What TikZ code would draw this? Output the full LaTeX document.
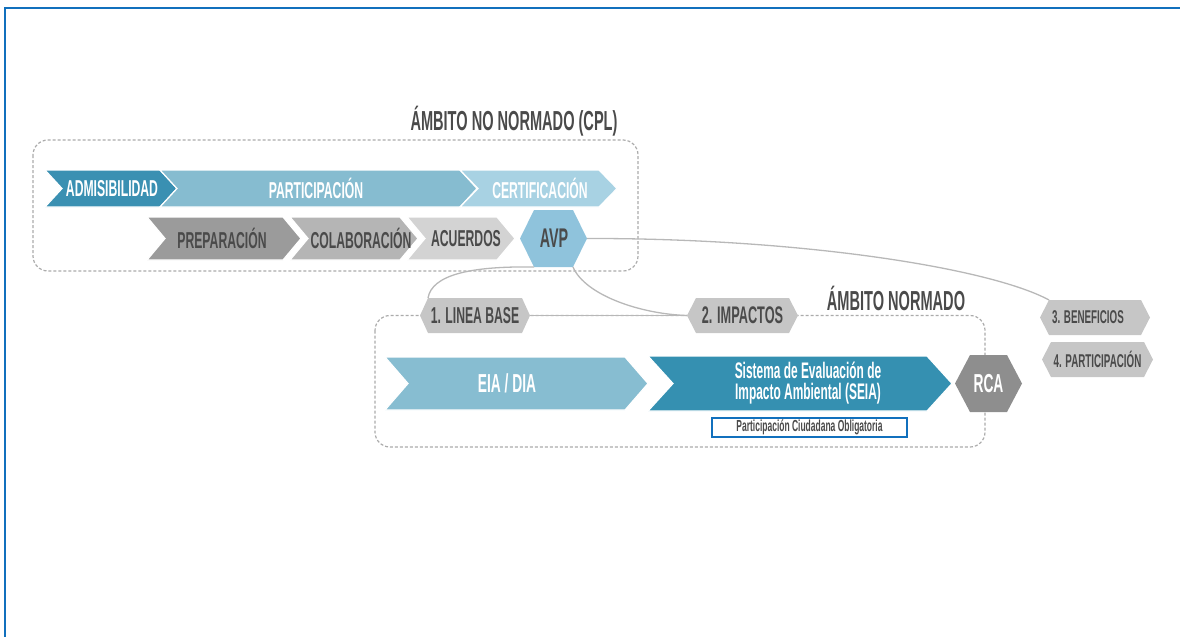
\documentclass[tikz,border=0pt]{standalone}
\usepackage{fontspec}
\newfontfamily\cf[FakeStretch=0.53]{Liberation Sans Bold}
\definecolor{frame}{HTML}{1170BD}
\definecolor{dk}{HTML}{3A90B2}
\definecolor{md}{HTML}{86BCD0}
\definecolor{lt}{HTML}{A8D2E3}
\definecolor{avpc}{HTML}{8FC3DC}
\definecolor{g1}{HTML}{9B9B9B}
\definecolor{g2}{HTML}{B5B5B5}
\definecolor{g3}{HTML}{D3D3D3}
\definecolor{hexg}{HTML}{C6C6C6}
\definecolor{rcac}{HTML}{8E8E8E}
\definecolor{txt}{HTML}{4A4A4A}
\definecolor{seia}{HTML}{3590B1}
\definecolor{eia}{HTML}{87BDD1}
\definecolor{linec}{HTML}{B8B8B8}
\definecolor{dashc}{HTML}{ABABAB}
\newcommand\chev[6]{% x1, x2, ymid, hh, d, fill
  \filldraw[fill=#6,draw=white,line width=1.2pt] (#1,#3-#4) -- (#2,#3-#4) -- (#2+#5,#3) -- (#2,#3+#4) -- (#1,#3+#4) -- (#1+#5,#3) -- cycle;}
\newcommand\hexa[7]{% name, cx, cy, hw, hh, inset, fill
  \begin{scope}[shift={(#2,#3)}]
  \fill[#7] (-#4,0) -- (-#4+#6,-#5) -- (#4-#6,-#5) -- (#4,0) -- (#4-#6,#5) -- (-#4+#6,#5) -- cycle;
  \coordinate (#1-l) at (-#4,0);
  \coordinate (#1-r) at (#4,0);
  \coordinate (#1-tl) at (-#4+#6,-#5);
  \coordinate (#1-bl) at (-#4+#6,#5);
  \coordinate (#1-br) at (#4-#6,#5);
  \end{scope}}
\tikzset{
  wl/.style={text=white,font=\cf\fontsize{23}{23}\selectfont,inner sep=0pt},
  gl/.style={text=txt,font=\cf\fontsize{23}{23}\selectfont,inner sep=0pt},
  title/.style={text=txt,font=\cf\fontsize{27.5}{27.5}\selectfont,inner sep=0pt},
  dbox/.style={draw=dashc,line width=1.2pt,dash pattern=on 3pt off 2pt,rounded corners=15pt},
  conn/.style={draw=linec,line width=1.3pt},
}
\begin{document}
\begin{tikzpicture}[x=1pt,y=-1pt]
\useasboundingbox (0,0) rectangle (1180,637);
% frame
\draw[frame,line width=2.3pt] (5,8) -- (1180,8);
\draw[frame,line width=2pt] (5,7) -- (5,637);
% top dashed box
\draw[dbox] (33,140) rectangle (638,271);
\node[title] (t1) at (514,121) {ÁMBITO NO NORMADO (CPL)};
% row 1
\chev{45}{160}{188.5}{18.5}{17}{dk}
\chev{160}{460}{188.5}{18.5}{17}{md}
\chev{460}{599}{188.5}{18.5}{18}{lt}
\node[wl] (adm) at (112,188.5) {ADMISIBILIDAD};
\node[wl] (par) at (316,188.5) {PARTICIPACIÓN};
\node[wl] (cer) at (540,188.5) {CERTIFICACIÓN};
% row 2
\chev{147}{283}{238.5}{21.5}{18}{g1}
\chev{290}{400}{238.5}{21.5}{18}{g2}
\chev{407}{497}{238.5}{21.5}{18}{g3}
\node[gl] (pre) at (222,238.5) {PREPARACIÓN};
\node[gl] (col) at (361,238.5) {COLABORACIÓN};
\node[gl] (acu) at (466,238.5) {ACUERDOS};
\hexa{avp}{553.5}{238.5}{33.5}{28.5}{14}{avpc}
\node[gl,font=\cf\fontsize{27}{27}\selectfont] (avpt) at (554,238.5) {AVP};
% lower dashed box
\draw[dbox] (375,315.5) rectangle (985,447);
\node[title] (t2) at (896,298) {ÁMBITO NORMADO};
\chev{385}{625}{383.5}{26.5}{23}{eia}
\chev{648}{927}{383.5}{27.5}{25}{seia}
\node[wl,font=\cf\fontsize{26}{26}\selectfont] (eiat) at (507,383.5) {EIA / DIA};
\node[wl,font=\cf\fontsize{22.5}{21}\selectfont,align=center] (seiat) at (808,383) {Sistema de Evaluación de\\Impacto Ambiental (SEIA)};
\node[draw=frame,fill=white,line width=1.2pt,minimum width=195pt,minimum height=19pt,inner sep=0pt,text=txt,font=\cf\fontsize{16}{16}\selectfont] (pco) at (809.5,427.5) {Participación Ciudadana Obligatoria};
% hexagons and connectors
\hexa{lb}{475}{315.5}{55}{17.5}{8}{hexg}
\hexa{imp}{742.5}{315.5}{55.5}{17.5}{9}{hexg}
\hexa{ben}{1095}{317.5}{55}{17.5}{9}{hexg}
\hexa{p4}{1097.5}{359.5}{55.5}{17.5}{9}{hexg}
\hexa{rca}{988.5}{383.5}{33.5}{28.5}{15}{rcac}
\draw[conn] (lb-r) -- (imp-l);
\draw[conn] (avp-r) .. controls (800,238) and (990,268) .. (ben-tl);
\draw[conn] (avp-br) .. controls (585,295) and (640,314) .. (imp-l);
\draw[conn] (lb-tl) .. controls (432,275) and (470,266) .. (avp-bl);
\node[gl] (lbt) at (475,315.5) {1. LINEA BASE};
\node[gl,font=\cf\fontsize{24}{24}\selectfont] (impt) at (742.5,315.5) {2. IMPACTOS};
\node[gl,font=\cf\fontsize{18.5}{18.5}\selectfont] (bent) at (1088,317.5) {3. BENEFICIOS};
\node[gl,font=\cf\fontsize{18.5}{18.5}\selectfont] (p4t) at (1097.5,359.5) {4. PARTICIPACIÓN};
\node[wl,font=\cf\fontsize{26}{26}\selectfont] (rcat) at (988.5,383.5) {RCA};
\end{tikzpicture}
\end{document}
